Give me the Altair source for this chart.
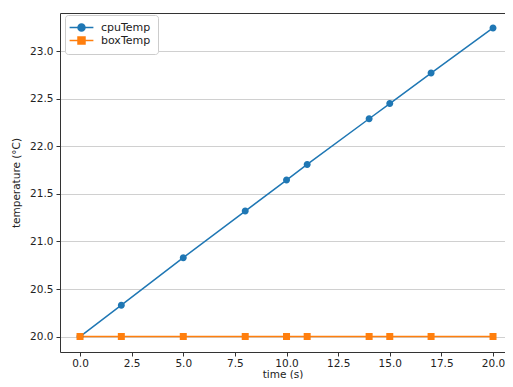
import altair as alt
import pandas as pd

times = [0, 2, 5, 8, 10, 11, 14, 15, 17, 20]
cpu_temp = [20.0, 20.33, 20.83, 21.32, 21.645, 21.81, 22.29, 22.45, 22.77, 23.245]
box_temp = [20.0, 20.0, 20.0, 20.0, 20.0, 20.0, 20.0, 20.0, 20.0, 20.0]
series_names = ["cpuTemp", "boxTemp"]
series_colors = ["#1f77b4", "#ff7f0e"]
# marker shapes (circle / square) with a legend line through them
series_shapes = [
    "M-1,0A1,1,0,1,1,1,0A1,1,0,1,1,-1,0Z M-3.4,0L3.4,0",
    "M-1,-1L1,-1L1,1L-1,1Z M-3.4,0L3.4,0",
]
x_ticks = [0.0, 2.5, 5.0, 7.5, 10.0, 12.5, 15.0, 17.5, 20.0]
y_ticks = [20.0, 20.5, 21.0, 21.5, 22.0, 22.5, 23.0]

rows = []
for t, v in zip(times, cpu_temp):
    rows.append({"time": t, "temp": v, "series": "cpuTemp"})
for t, v in zip(times, box_temp):
    rows.append({"time": t, "temp": v, "series": "boxTemp"})
df = pd.DataFrame(rows)

FONT = "DejaVu Sans"
TXT = "#222222"
SPINE = "#333333"

x_scale = alt.Scale(domain=[-0.97, 20.58], nice=False, zero=False)
y_enc = alt.Y("temp:Q",
              scale=alt.Scale(domain=[19.838, 23.402], nice=False, zero=False),
              axis=alt.Axis(values=y_ticks, format=".1f", title="temperature (°C)", grid=True,
                            tickSize=4, labelPadding=3, titlePadding=8))

lines = alt.Chart(df).mark_line(
    strokeWidth=1.5,
    point=alt.OverlayMarkDef(filled=True, size=49, opacity=1, strokeWidth=0),
).encode(
    x=alt.X("time:Q", scale=x_scale,
            axis=alt.Axis(values=x_ticks, format=".1f", title="time (s)", grid=False,
                          tickSize=4, labelPadding=2, titlePadding=1)),
    y=y_enc,
    color=alt.Color("series:N",
                    scale=alt.Scale(domain=series_names, range=series_colors),
                    legend=alt.Legend(title=None, orient="none", legendX=5, legendY=2,
                                      padding=7, strokeColor="#cccccc", fillColor="white",
                                      cornerRadius=3, labelFontSize=11, labelFont=FONT,
                                      labelColor=TXT, symbolSize=49, rowPadding=0,
                                      symbolStrokeWidth=1.5, symbolOffset=4,
                                      labelOffset=14)),
    shape=alt.Shape("series:N",
                    scale=alt.Scale(domain=series_names, range=series_shapes),
                    legend=None),
    order=alt.Order("time:Q"),
)

top_spine = alt.Chart(df).mark_point(opacity=0).encode(
    x=alt.X("time:Q", scale=x_scale,
            axis=alt.Axis(orient="top", labels=False, ticks=False, title=None, grid=False,
                          domainColor=SPINE)),
    y=y_enc,
)

chart = alt.layer(lines, top_spine).resolve_axis(x="independent").properties(
    width=445,
    height=339,
    autosize=alt.AutoSizeParams(type="none"),
    padding={"left": 52, "top": 5, "right": 0, "bottom": 27},
).configure_view(
    stroke=None,
).configure_axis(
    labelFont=FONT,
    titleFont=FONT,
    labelFontSize=10.5,
    titleFontSize=10.5,
    titleFontWeight="normal",
    labelColor=TXT,
    titleColor=TXT,
    domainColor=SPINE,
    tickColor=SPINE,
    gridColor="#d0d0d0",
    gridWidth=1,
)

chart.save("out.html", embed_options={"renderer": "svg", "actions": False})
